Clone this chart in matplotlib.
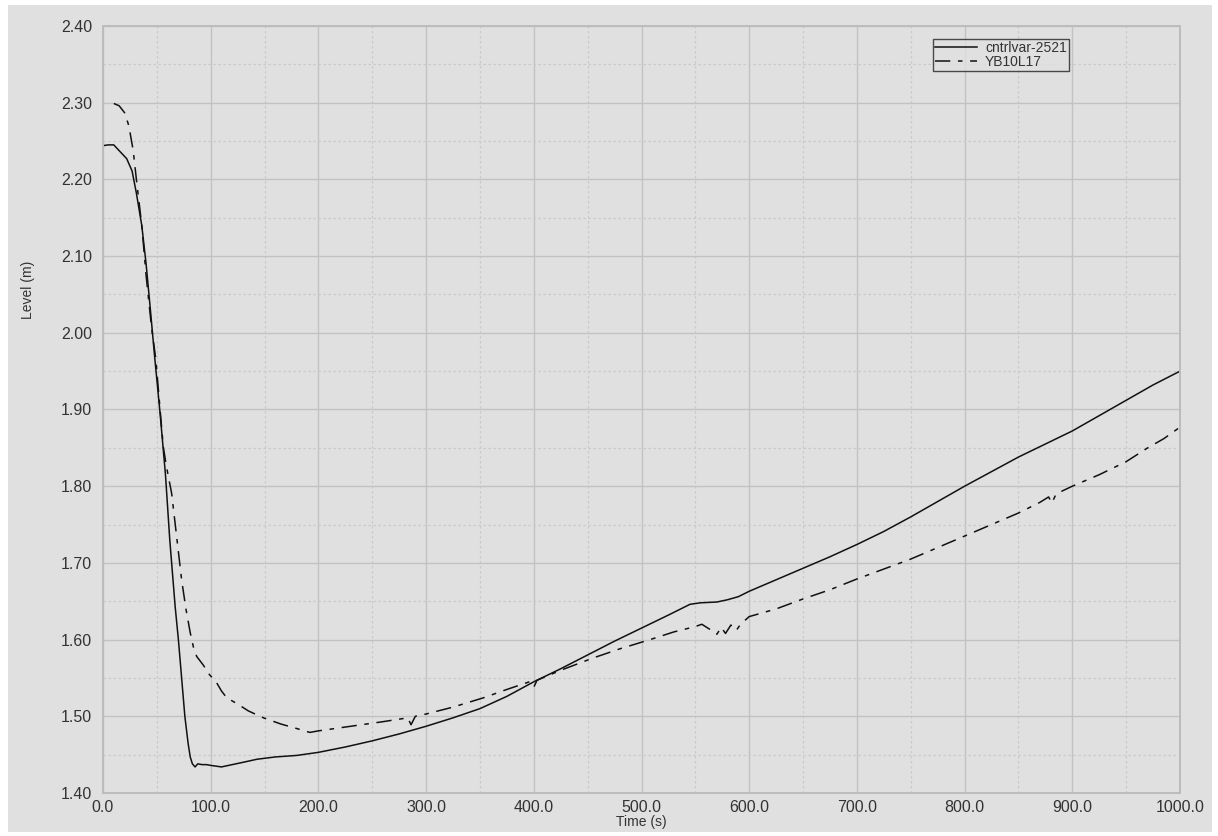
import matplotlib
matplotlib.use("Agg")
import matplotlib.pyplot as plt
from matplotlib.patches import Rectangle
from matplotlib.ticker import MultipleLocator, FormatStrFormatter

# cntrlvar-2521 (calculated level)
calc_time = [0, 5, 10, 16, 22, 27, 31, 36, 40, 44, 48, 53, 58, 62, 67, 70, 73, 76,
             79, 81, 83, 85.5, 88, 92, 96, 100, 110, 120, 130, 143, 160, 180, 200,
             225, 250, 275, 300, 325, 350, 375, 400, 425, 450, 475, 500, 525, 545,
             555, 570, 580, 590, 600, 625, 650, 675, 700, 725, 750, 775, 800, 825,
             850, 875, 900, 925, 950, 975, 1000]
calc_level = [2.244, 2.245, 2.245, 2.236, 2.227, 2.211, 2.182, 2.140, 2.090, 2.030,
              1.968, 1.895, 1.815, 1.730, 1.643, 1.600, 1.550, 1.500, 1.465, 1.447,
              1.438, 1.434, 1.438, 1.437, 1.437, 1.436, 1.434, 1.437, 1.440, 1.444,
              1.447, 1.449, 1.453, 1.460, 1.468, 1.477, 1.487, 1.498, 1.510, 1.526,
              1.545, 1.562, 1.580, 1.598, 1.615, 1.632, 1.646, 1.648, 1.649, 1.652,
              1.656, 1.663, 1.678, 1.693, 1.708, 1.724, 1.741, 1.760, 1.780, 1.800,
              1.819, 1.838, 1.855, 1.872, 1.892, 1.912, 1.932, 1.950]

# YB10L17 (measured level)
meas_time = [10, 15, 20, 24, 28, 31, 36, 40, 45, 49, 53, 56, 59, 63.7, 68, 73, 77,
             81, 84, 87, 93, 99, 105, 110, 115, 125, 135, 149, 165, 180, 192, 200,
             230, 260, 283, 286, 290, 300, 325, 353, 375, 396, 400, 403, 425, 455,
             480, 508, 530, 550, 556, 565, 570, 574, 578, 583, 588, 592, 600, 625,
             650, 675, 700, 725, 750, 775, 800, 825, 850, 870, 878, 881, 885, 900,
             925, 950, 970, 985, 1000]
meas_level = [2.299, 2.296, 2.287, 2.270, 2.238, 2.200, 2.140, 2.075, 2.008, 1.966,
              1.900, 1.851, 1.825, 1.791, 1.739, 1.678, 1.640, 1.609, 1.590, 1.578,
              1.567, 1.554, 1.545, 1.533, 1.524, 1.516, 1.507, 1.498, 1.490, 1.484,
              1.479, 1.481, 1.487, 1.493, 1.498, 1.489, 1.500, 1.503, 1.512, 1.524,
              1.535, 1.545, 1.538, 1.547, 1.560, 1.576, 1.588, 1.600, 1.610, 1.617,
              1.620, 1.612, 1.607, 1.616, 1.608, 1.619, 1.612, 1.620, 1.630, 1.640,
              1.653, 1.665, 1.679, 1.692, 1.705, 1.720, 1.735, 1.750, 1.765, 1.779,
              1.786, 1.778, 1.790, 1.800, 1.815, 1.832, 1.850, 1.862, 1.877]

series_names = ["cntrlvar-2521", "YB10L17"]

BG = "#e0e0e0"
TXT = "#333333"

plt.rcParams["font.family"] = ["Liberation Sans", "DejaVu Sans"]

fig = plt.figure(figsize=(12.18, 8.36), dpi=100)
fig.patch.set_facecolor("white")
fig.patches.append(Rectangle((8 / 1218, 4 / 836), (1212 - 8) / 1218, (831 - 4) / 836,
                             transform=fig.transFigure, facecolor=BG,
                             edgecolor="none", zorder=-10))

ax = fig.add_axes([103 / 1218, 43 / 836, (1180 - 103) / 1218, (793 - 26) / 836])
ax.set_facecolor(BG)

ax.plot(calc_time, calc_level, color="#111111", lw=1.1, label=series_names[0])
ax.plot(meas_time, meas_level, color="#111111", lw=1.1,
        linestyle=(0, (10, 5, 3, 5)), label=series_names[1])

ax.set_xlim(0, 1000)
ax.set_ylim(1.40, 2.40)
ax.xaxis.set_major_locator(MultipleLocator(100))
ax.xaxis.set_minor_locator(MultipleLocator(50))
ax.yaxis.set_major_locator(MultipleLocator(0.1))
ax.yaxis.set_minor_locator(MultipleLocator(0.05))
ax.xaxis.set_major_formatter(FormatStrFormatter("%.1f"))
ax.yaxis.set_major_formatter(FormatStrFormatter("%.2f"))

ax.grid(which="major", color="#c2c2c2", lw=1.0, linestyle="-")
ax.grid(which="minor", color="#cacaca", lw=0.9, linestyle=(0, (2, 2)))
ax.set_axisbelow(True)

ax.tick_params(which="both", length=0, labelsize=11.5, colors=TXT, pad=8)
ax.tick_params(axis="x", pad=5)
for s in ax.spines.values():
    s.set_color("#bcbcbc")
    s.set_linewidth(1.4)

ax.set_xlabel("Time (s)", fontsize=10, color=TXT, labelpad=0)
ax.set_ylabel("Level (m)", fontsize=10, color=TXT)
ax.yaxis.set_label_coords(-0.0627, 0.656)

leg = ax.legend(loc="upper right", bbox_to_anchor=(1069 / 1218, 797 / 836),
                bbox_transform=fig.transFigure, fontsize=10, frameon=True,
                fancybox=False, handlelength=3.0, handletextpad=0.6,
                borderpad=0.15, labelspacing=0.0, borderaxespad=0)
leg.get_frame().set_facecolor(BG)
leg.get_frame().set_edgecolor("#222222")
leg.get_frame().set_linewidth(1.0)
for t in leg.get_texts():
    t.set_color(TXT)

fig.savefig("out.png", dpi=100, facecolor=fig.get_facecolor())
